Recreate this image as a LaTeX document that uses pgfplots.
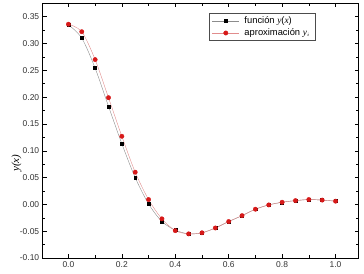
\documentclass[border=0pt]{standalone}
\usepackage{pgfplots}
\pgfplotsset{compat=1.18}
\usepackage{fontspec}
\setmainfont{Liberation Sans}
\newfontfamily\serif{Liberation Serif}
\definecolor{myred}{RGB}{215,25,25}
\definecolor{linered}{RGB}{225,140,140}
\definecolor{linegray}{RGB}{140,140,140}
\begin{document}
\begin{tikzpicture}
\begin{axis}[
  scale only axis,
  width=316bp, height=254.7bp,
  xmin=-0.0963, xmax=1.0867,
  ymin=-0.1, ymax=0.375,
  xtick={0,0.2,...,1.0},
  minor xtick={0.1,0.3,...,0.9},
  ytick={-0.1,-0.05,...,0.36},
  minor ytick={-0.075,-0.025,...,0.33},
  tick align=inside,
  major tick length=4bp, minor tick length=2.5bp,
  every tick/.style={black, line width=0.5pt},
  axis line style={line width=0.6pt},
  /pgf/number format/assume math mode=true,
  xticklabel style={font=\fontsize{8.5}{9}\selectfont, text=black!80},
  yticklabel style={font=\fontsize{8.5}{9}\selectfont, text=black!80,
    /pgf/number format/.cd, fixed, fixed zerofill, precision=2},
  x tick label style={/pgf/number format/.cd, fixed, fixed zerofill, precision=1},
  ylabel={\serif\itshape y(x)},
  ylabel style={font=\fontsize{11}{12}\selectfont, at={(ticklabel cs:0.5)}, anchor=center, xshift=-32.5bp},
  legend style={at={(rel axis cs:0.526,0.961)}, anchor=north west,
    font=\fontsize{9.4}{10}\selectfont, draw=black!70, line width=0.4pt,
    inner xsep=3pt, inner ysep=1.5pt, row sep=-0.5pt,
    nodes={inner sep=2pt},
    /tikz/every odd column/.append style={column sep=3pt}},
  legend cell align=left,
  legend image code/.code={
    \draw[#1, mark repeat=2, mark phase=2] plot coordinates {(0bp,0bp) (13.5bp,0bp) (27bp,0bp)};
  },
]
\addplot[linegray, line width=0.4pt, smooth, mark=square*, mark size=1.5pt,
  mark options={black, fill=black}] coordinates {
(0,0.335) (0.05,0.310) (0.1,0.254) (0.15,0.183) (0.2,0.113) (0.25,0.050)
(0.3,0.001) (0.35,-0.032) (0.4,-0.048) (0.45,-0.055) (0.5,-0.053)
(0.55,-0.044) (0.6,-0.032) (0.65,-0.021) (0.7,-0.009) (0.75,-0.001)
(0.8,0.004) (0.85,0.007) (0.9,0.009) (0.95,0.008) (1.0,0.006)};
\addlegendentry{función {\serif\itshape y}({\serif\itshape x})}
\addplot[linered, line width=0.4pt, smooth, mark=*, mark size=2.2pt,
  mark options={myred, fill=myred}] coordinates {
(0,0.336) (0.05,0.322) (0.1,0.270) (0.15,0.199) (0.2,0.127) (0.25,0.060)
(0.3,0.009) (0.35,-0.027) (0.4,-0.049) (0.45,-0.055) (0.5,-0.053)
(0.55,-0.044) (0.6,-0.032) (0.65,-0.021) (0.7,-0.009) (0.75,-0.001)
(0.8,0.004) (0.85,0.007) (0.9,0.009) (0.95,0.008) (1.0,0.006)};
\addlegendentry{aproximación {\serif\itshape y}$_{\scriptscriptstyle i}$}
\end{axis}
\pgfresetboundingbox
\path ([xshift=-42.7bp,yshift=-16bp]current axis.south west) rectangle ([xshift=5.3bp,yshift=3.3bp]current axis.north east);
\end{tikzpicture}
\end{document}
